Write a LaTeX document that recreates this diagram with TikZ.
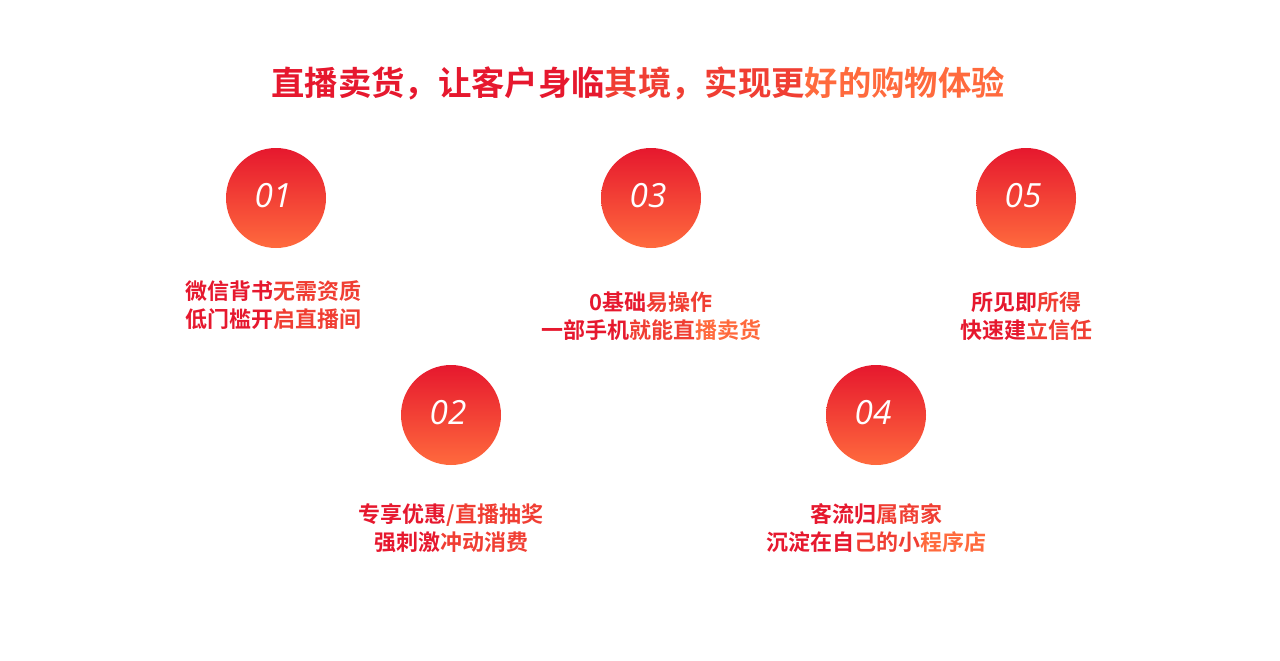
\documentclass[tikz,border=0pt]{standalone}
\usepackage{fontspec}
\setmainfont{Noto Sans CJK SC}[BoldFont={* Bold}]
\newfontfamily\numfont{Open Sans}
\definecolor{cA}{HTML}{E6182E}
\definecolor{cB}{HTML}{F03E33}
\definecolor{cC}{HTML}{FF6A3D}
\begin{document}
\begin{tikzpicture}[x=0.75pt,y=-0.75pt,
  bub/.style={circle,minimum size=100*0.75pt,inner sep=0,top color=cA,bottom color=cC},
  num/.style={text=white,font=\numfont\itshape\fontsize{25}{25}\selectfont},
  lbl/.style={font=\bfseries\fontsize{16.5}{21}\selectfont,align=center}]
\useasboundingbox (0,0) rectangle (1280,660);
\node[font=\bfseries\fontsize{25}{25}\selectfont] (title) at (638,83)
 {\textcolor{cA}{直播卖货，让客户身临}\textcolor{cB}{其境，实现更}\textcolor{cC}{好的购物体验}};
\foreach \n/\x/\y in {01/276/198,03/651/198,05/1026/198,02/451/415,04/876/415}{
  \node[bub] (c\n) at (\x,\y) {};
  \node[num] (n\n) at (\x-3,\y-2) {\n};
}
\node[lbl] (t01) at (273,305) {\textcolor{cA}{微信背书}\textcolor{cB}{无需资质}\\\textcolor{cA}{低门槛开}\textcolor{cB}{启直播间}};
\node[lbl] (t03) at (651,316) {\textcolor{cA}{0基础}\textcolor{cB}{易操作}\\\textcolor{cA}{一部手机}\textcolor{cB}{就能直}\textcolor{cC}{播卖货}};
\node[lbl] (t05) at (1026,316) {\textcolor{cA}{所见即}\textcolor{cB}{所得}\\\textcolor{cA}{快速建}\textcolor{cB}{立信任}};
\node[lbl] (t02) at (451,528) {\textcolor{cA}{专享优惠}\textcolor{cB}{/直播抽奖}\\\textcolor{cA}{强刺激}\textcolor{cB}{冲动消费}};
\node[lbl] (t04) at (876,528) {\textcolor{cA}{客流归}\textcolor{cB}{属商家}\\\textcolor{cA}{沉淀在自}\textcolor{cB}{己的小}\textcolor{cC}{程序店}};
\end{tikzpicture}
\end{document}
